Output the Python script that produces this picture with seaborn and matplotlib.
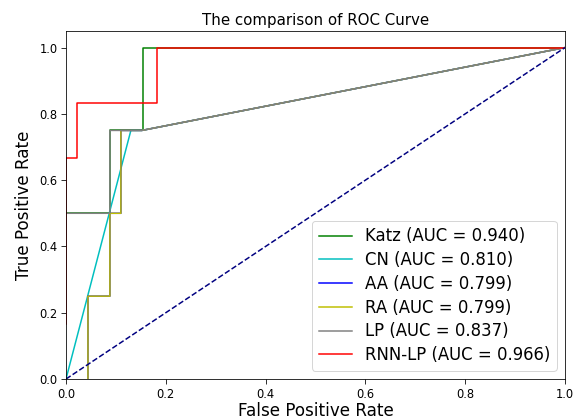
import matplotlib
matplotlib.use("Agg")
import matplotlib.pyplot as plt
import seaborn as sns
import pandas as pd

katz_fpr = [0.0, 0.088, 0.088, 0.154, 0.154, 1.0]
katz_tpr = [0.5, 0.5, 0.75, 0.75, 1.0, 1.0]
cn_fpr = [0.0, 0.13, 0.152, 1.0]
cn_tpr = [0.0, 0.75, 0.75, 1.0]
aa_fpr = [0.044, 0.044, 0.088, 0.088, 0.11, 0.11, 0.152, 1.0]
aa_tpr = [0.0, 0.25, 0.25, 0.5, 0.5, 0.75, 0.75, 1.0]
ra_fpr = [0.044, 0.044, 0.088, 0.088, 0.11, 0.11, 0.152, 1.0]
ra_tpr = [0.0, 0.25, 0.25, 0.5, 0.5, 0.75, 0.75, 1.0]
lp_fpr = [0.0, 0.088, 0.088, 0.152, 1.0]
lp_tpr = [0.5, 0.5, 0.75, 0.75, 1.0]
rnn_fpr = [0.0, 0.0, 0.023, 0.023, 0.182, 0.182, 1.0]
rnn_tpr = [0.167, 0.667, 0.667, 0.833, 0.833, 1.0, 1.0]

names = ["Katz", "CN", "AA", "RA", "LP", "RNN-LP"]
aucs = [0.940, 0.810, 0.799, 0.799, 0.837, 0.966]
colors = ["green", "c", "blue", "y", "gray", "red"]
curves = [(katz_fpr, katz_tpr), (cn_fpr, cn_tpr), (aa_fpr, aa_tpr),
          (ra_fpr, ra_tpr), (lp_fpr, lp_tpr), (rnn_fpr, rnn_tpr)]

fig = plt.figure(figsize=(573 / 72, 419 / 72), dpi=72)
ax = fig.add_axes([66 / 573, 40 / 419, 499 / 573, 348 / 419])

for name, auc, col, (fx, ty) in zip(names, aucs, colors, curves):
    df = pd.DataFrame({"fpr": fx, "tpr": ty})
    sns.lineplot(data=df, x="fpr", y="tpr", sort=False, estimator=None,
                 color=col, lw=1.5, ax=ax,
                 label=f"{name} (AUC = {auc:.3f})")

diag = pd.DataFrame({"fpr": [0.0, 1.0], "tpr": [0.0, 1.0]})
sns.lineplot(data=diag, x="fpr", y="tpr", color="navy", lw=1.5,
             linestyle="--", ax=ax)

ax.set_xlim(0.0, 1.0)
ax.set_ylim(0.0, 1.05)
ax.tick_params(labelsize=11.5, length=5)
ax.set_xlabel("False Positive Rate", fontsize=16.8, labelpad=2)
ax.set_ylabel("True Positive Rate", fontsize=16.8, labelpad=6)
ax.set_title("The comparison of ROC Curve", fontsize=15)
ax.legend(loc="lower right", fontsize=16.5, labelspacing=0.35)

fig.savefig("out.png", dpi=72)
